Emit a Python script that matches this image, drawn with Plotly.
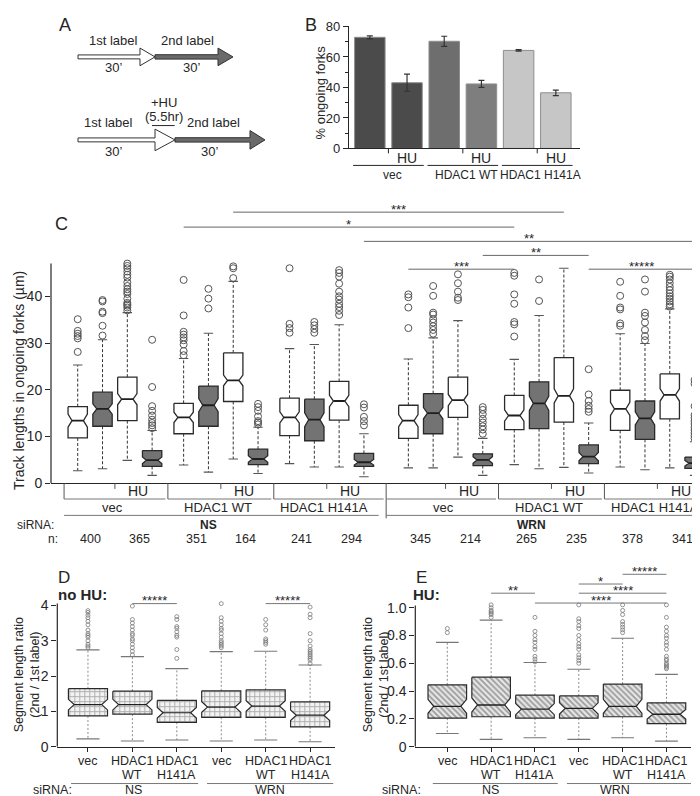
import plotly.graph_objects as go

W, H = 700, 796
FONT = "Liberation Sans, Arial, Helvetica, sans-serif"
INK = "#262626"


def fx(p):
    return p / W


def fy(p):
    return 1 - p / H


# ======================= DATA =======================
# ---- Panel B: % ongoing forks ----
b_conditions = ["vec", "vec HU", "HDAC1 WT", "HDAC1 WT HU", "HDAC1 H141A", "HDAC1 H141A HU"]
b_percent = [72.9, 43.1, 70.3, 42.3, 64.3, 36.5]
b_error = [1.0, 5.6, 3.3, 2.3, 0.5, 1.8]
b_groups = ["vec", "HDAC1 WT", "HDAC1 H141A"]
b_yticks = [0, 20, 40, 60, 80]

# ---- Panel C: track lengths (um); 4 boxes per construct:
#      1st label, 2nd label, 1st label +HU, 2nd label +HU
c_constructs = ["vec", "HDAC1 WT", "HDAC1 H141A", "vec", "HDAC1 WT", "HDAC1 H141A"]
c_sirna = ["NS", "WRN"]
c_n = [400, 365, 351, 164, 241, 294, 345, 214, 265, 235, 378, 341]
c_q1 = [9.7, 12.2, 13.4, 3.6, 10.6, 12.2, 17.5, 4.0, 10.2, 9.1, 13.5, 3.6,
        9.6, 10.6, 14.1, 3.8, 11.5, 11.7, 13.1, 4.2, 11.3, 9.4, 13.8, 3.2]
c_median = [13.4, 15.9, 18.0, 4.95, 14.1, 16.7, 22.0, 5.2, 14.1, 13.6, 17.6, 4.5,
            13.4, 15.0, 17.8, 5.0, 14.5, 17.1, 18.7, 5.7, 15.9, 13.9, 18.9, 4.3]
c_q3 = [16.4, 19.5, 22.7, 7.0, 17.1, 20.8, 27.9, 7.3, 18.2, 18.0, 21.8, 6.4,
        16.7, 19.2, 22.7, 6.3, 18.8, 21.7, 26.9, 8.2, 19.9, 17.6, 23.4, 5.6]
c_low = [2.7, 3.1, 4.9, 1.7, 3.9, 2.4, 5.2, 2.1, 4.2, 3.5, 3.5, 1.4,
         3.3, 3.3, 5.6, 1.7, 4.0, 3.1, 3.4, 2.2, 3.5, 2.9, 3.3, 1.7]
c_high = [25.3, 30.7, 36.5, 11.3, 26.7, 32.1, 43.2, 12.0, 28.8, 29.7, 33.9, 10.6,
          26.6, 31.1, 34.8, 9.6, 26.5, 35.9, 46.0, 12.9, 32.0, 29.9, 37.3, 8.9]
c_notch = [1.4, 1.1, 1.2, 0.7, 1.1, 1.4, 1.15, 0.7, 1.2, 1.5, 1.2, 0.6,
           1.3, 1.2, 1.2, 0.7, 1.2, 1.5, 1.5, 0.9, 1.4, 1.4, 1.3, 0.6]
c_outliers = [
    [28.1, 31.0, 31.5, 32.0, 32.6, 35.1],
    [31.6, 33.7, 36.4, 36.7, 38.9, 39.2],
    [37.0, 37.6, 38.0, 38.3, 38.6, 39.5, 40.5, 41.0, 41.5, 42.2, 43.0, 44.0, 44.6, 45.3, 46.0, 46.5, 47.0],
    [11.8, 12.4, 12.9, 13.6, 14.5, 15.5, 16.5, 20.6, 30.7],
    [27.4, 28.3, 29.7, 30.6, 31.2, 31.8, 32.4, 35.9, 43.5],
    [37.4, 39.5, 41.6],
    [43.9, 46.0, 46.4],
    [12.6, 13.0, 13.3, 14.3, 15.5, 16.3, 17.0],
    [32.2, 33.2, 34.1, 46.0],
    [32.2, 33.0, 33.8, 34.5],
    [36.0, 36.9, 37.7, 38.4, 39.3, 40.0, 41.0, 42.7, 44.2, 45.0, 45.6],
    [12.4, 13.3, 14.2, 16.2, 16.9],
    [33.2, 37.6, 39.8, 40.4],
    [32.0, 32.8, 33.6, 34.4, 35.1, 36.1, 36.5, 40.1, 42.2],
    [39.2, 39.7, 41.0, 42.8, 44.7],
    [10.6, 11.5, 12.2, 13.0, 13.8, 14.8, 15.7, 16.3],
    [31.4, 34.0, 34.5, 38.4, 40.4, 44.4, 45.0],
    [39.0, 43.6],
    [],
    [15.3, 15.9, 16.6, 17.6, 19.0, 24.4],
    [33.7, 34.2, 37.2, 37.6, 40.1, 43.1],
    [30.6, 31.5, 32.8, 34.4, 35.8, 36.5, 41.0, 43.6],
    [37.8, 38.3, 38.9, 39.5, 40.0, 40.6, 41.3, 42.0, 42.8, 43.6, 44.2, 44.6],
    [9.6, 10.2, 10.8, 11.4, 12.0, 12.7, 13.3, 14.0, 14.6, 16.5, 21.3, 22.1],
]
# significance: (box i, box j, bracket height, label)
c_sig = [(6, 18, 58.0, "***"), (4, 16, 54.8, "*"), (11, 23, 51.75, "**"),
         (15, 19, 48.75, "**"), (12, 16, 45.8, "***"), (19, 23, 45.8, "*****")]
c_yticks = [0, 10, 20, 30, 40]

# ---- Panel D: segment length ratio, no HU ----
de_labels = ["vec", "HDAC1<br>WT", "HDAC1<br>H141A", "vec", "HDAC1<br>WT", "HDAC1<br>H141A"]
de_sirna = ["NS", "WRN"]
d_q1 = [0.87, 0.92, 0.69, 0.83, 0.83, 0.56]
d_median = [1.19, 1.19, 0.96, 1.12, 1.15, 0.89]
d_q3 = [1.64, 1.57, 1.31, 1.58, 1.61, 1.27]
d_low = [0.22, 0.16, 0.19, 0.16, 0.19, 0.14]
d_high = [2.74, 2.55, 2.21, 2.69, 2.70, 2.31]
d_notch = [0.15, 0.15, 0.15, 0.15, 0.15, 0.15]
d_outliers = [
    [2.8, 2.85, 2.9, 3.0, 3.1, 3.15, 3.2, 3.3, 3.45, 3.55, 3.65, 3.72, 3.8, 3.85],
    [2.6, 2.7, 2.8, 2.9, 3.0, 3.05, 3.15, 3.2, 3.3, 3.4, 3.5, 3.6, 3.98],
    [2.5, 2.75, 3.1, 3.15, 3.25, 3.35, 3.4, 3.6, 3.68],
    [2.8, 2.85, 2.9, 2.95, 3.0, 3.1, 3.2, 3.3, 3.35, 3.45, 3.55, 3.65, 4.05],
    [2.9, 2.95, 3.0, 3.05, 3.3, 3.45, 3.6],
    [2.35, 2.45, 2.5, 2.55, 2.6, 2.65, 2.7, 2.75, 2.85, 3.0, 3.2, 3.65, 3.75, 3.95],
]
d_sig = [(1, 2, 4.05, "*****"), (4, 5, 4.05, "*****")]
d_yticks = [0, 1, 2, 3, 4]

# ---- Panel E: segment length ratio, HU ----
e_q1 = [0.205, 0.215, 0.205, 0.205, 0.215, 0.165]
e_median = [0.29, 0.30, 0.27, 0.275, 0.29, 0.233]
e_q3 = [0.445, 0.50, 0.37, 0.365, 0.45, 0.315]
e_low = [0.095, 0.052, 0.064, 0.052, 0.064, 0.04]
e_high = [0.75, 0.91, 0.605, 0.557, 0.78, 0.52]
e_notch = [0.05, 0.05, 0.04, 0.04, 0.05, 0.035]
e_outliers = [
    [0.82, 0.85],
    [0.93, 0.95, 0.96, 0.97, 0.98, 1.0, 1.02],
    [0.61, 0.63, 0.65, 0.70, 0.72, 0.75, 0.77, 0.80, 0.83, 0.93],
    [0.60, 0.62, 0.64, 0.66, 0.70, 0.72, 0.74, 0.77, 0.80, 0.85, 0.87, 0.90, 0.92, 1.02],
    [0.82, 0.84, 0.86, 0.88, 0.90, 0.95, 0.98, 1.02],
    [0.56, 0.57, 0.58, 0.59, 0.60, 0.62, 0.63, 0.65, 0.70, 0.73, 0.75, 0.78, 0.80, 0.83, 0.86, 0.93, 1.02],
]
e_sig = [(1, 2, 1.104, "**"), (2, 5, 1.033, "****"), (3, 5, 1.104, "****"),
         (3, 4, 1.17, "*"), (4, 5, 1.24, "*****")]
e_yticks = [0, 0.2, 0.4, 0.6, 0.8, 1.0]
e_yticktext = ["0", "0.2", "0.4", "0.6", "0.8", "1.0"]

# ======================= STYLE =======================
B_FILL = ["#4b4b4b", "#4b4b4b", "#6e6e6e", "#7e7e7e", "#c6c6c6", "#c6c6c6"]
B_EDGE = "#8e8e8e"
C_FILL = ["#ffffff", "#737373"]

fig = go.Figure()
ann = []
shapes = []


def text(x, y, s, size=13, xref="paper", yref="paper", xanchor="center",
         yanchor="middle", angle=0, yshift=0, color=INK):
    ann.append(dict(x=x, y=y, xref=xref, yref=yref, text=s, showarrow=False,
                    font=dict(size=size, family=FONT, color=color),
                    xanchor=xanchor, yanchor=yanchor, textangle=angle, yshift=yshift,
                    borderpad=0))


def ptext(xp, yp, s, **kw):
    text(fx(xp), fy(yp), s, **kw)


def line(x0, y0, x1, y1, xref="paper", yref="paper", color=INK, width=1.0):
    shapes.append(dict(type="line", x0=x0, y0=y0, x1=x1, y1=y1, xref=xref, yref=yref,
                       line=dict(color=color, width=width), layer="above"))


# ======================= PANEL A =======================
def arrow_path(x0, x1, xh, yc, bh, hh):
    pts = [(x0, yc - bh / 2), (x1, yc - bh / 2), (x1, yc - hh / 2), (xh, yc),
           (x1, yc + hh / 2), (x1, yc + bh / 2), (x0, yc + bh / 2)]
    return "M " + " L ".join(f"{fx(a):.5f},{fy(b):.5f}" for a, b in pts) + " Z"


for (x0, x1, xh, yc, bh, hh, fc) in [
    (70, 132, 147, 42.7, 4, 18, "#ffffff"), (147, 210, 225, 42.7, 4.5, 18, "#6a6a6a"),
    (70, 147, 167, 127.3, 4, 22, "#ffffff"), (167, 242, 257, 127.3, 4.5, 19, "#6a6a6a")]:
    shapes.append(dict(type="path", path=arrow_path(x0, x1, xh, yc, bh, hh), xref="paper",
                       yref="paper", fillcolor=fc, line=dict(color="#333333", width=1)))
line(fx(144), fy(112.7), fx(166.7), fy(112.7), width=1)
ptext(57, 10, "A", size=18)
ptext(105, 26, "1st label", size=13)
ptext(179, 26, "2nd label", size=13)
ptext(105, 54, "30’", size=13)
ptext(183, 54, "30’", size=13)
ptext(156, 89, "+HU", size=13)
ptext(156, 103, "(5.5hr)", size=13)
ptext(100, 110, "1st label", size=13)
ptext(206, 110, "2nd label", size=13)
ptext(105, 139, "30’", size=13)
ptext(201, 139, "30’", size=13)

# ======================= PANEL B =======================
b_x = list(range(len(b_percent)))
fig.add_trace(go.Bar(
    x=b_x, y=b_percent, width=0.82, name="% ongoing forks",
    marker=dict(color=B_FILL, line=dict(color=B_EDGE, width=1)),
    error_y=dict(type="data", array=b_error, color="#333333", thickness=1.2, width=3),
    xaxis="x", yaxis="y", hoverinfo="skip", text=b_conditions, textposition="none"))
ptext(303, 10, "B", size=18)
ptext(313, 79, "% ongoing forks", size=13, angle=-90)
for g, name in enumerate(b_groups):
    line(2 * g + 0.5, fy(136), 2 * g + 0.5, fy(141), xref="x")
    line(2 * g - 0.45, fy(153.3), 2 * g + 1.45, fy(153.3), xref="x")
    text(2 * g + 1, fy(145.5), "HU", size=14, xref="x")
    text(2 * g + 0.6, fy(163.3), name, size=12, xref="x")

# ======================= BOX HELPERS =======================
def notch_polys(xs, q1, med, q3, notch, hw, nw, idx):
    X, Y = [], []
    for i in idx:
        x, a, m, b, n = xs[i], q1[i], med[i], q3[i], notch[i]
        X += [x - hw, x + hw, x + hw, x + hw - nw, x + hw, x + hw, x - hw, x - hw,
              x - hw + nw, x - hw, x - hw, None]
        Y += [b, b, m + n, m, m - n, a, a, m - n, m, m + n, b, None]
    return X, Y


def median_lines(xs, med, hw, nw):
    X, Y = [], []
    for x, m in zip(xs, med):
        X += [x - hw + nw, x + hw - nw, None]
        Y += [m, m, None]
    return X, Y


def whiskers(xs, q1, q3, lo, hi):
    X, Y = [], []
    for x, a, b, l, h in zip(xs, q1, q3, lo, hi):
        X += [x, x, None, x, x, None]
        Y += [b, h, None, a, l, None]
    return X, Y


def caps(xs, lo, hi, cw):
    X, Y = [], []
    for x, l, h in zip(xs, lo, hi):
        X += [x - cw, x + cw, None, x - cw, x + cw, None]
        Y += [h, h, None, l, l, None]
    return X, Y


def outlier_pts(xs, outs):
    X, Y = [], []
    for x, o in zip(xs, outs):
        X += [x] * len(o)
        Y += list(o)
    return X, Y


def draw_boxes(xs, q1, med, q3, lo, hi, notch, outs, xa, ya, hw, nw, cw,
               fills, wcol, wdash, ccol, ocol, osize, owidth, lwidth, mwidth):
    wx, wy = whiskers(xs, q1, q3, lo, hi)
    fig.add_trace(go.Scatter(x=wx, y=wy, mode="lines", xaxis=xa, yaxis=ya, hoverinfo="skip",
                             line=dict(color=wcol, width=1, dash=wdash)))
    cx, cy = caps(xs, lo, hi, cw)
    fig.add_trace(go.Scatter(x=cx, y=cy, mode="lines", xaxis=xa, yaxis=ya, hoverinfo="skip",
                             line=dict(color=ccol, width=1.1)))
    for idx, fill in fills:
        bx, by = notch_polys(xs, q1, med, q3, notch, hw, nw, idx)
        kw = dict(fillcolor=fill) if isinstance(fill, str) else dict(fillpattern=fill, fillcolor=fill["bgcolor"])
        fig.add_trace(go.Scatter(x=bx, y=by, mode="lines", fill="toself", xaxis=xa, yaxis=ya,
                                 hoverinfo="skip", line=dict(color="#2a2a2a", width=lwidth), **kw))
    mx, my = median_lines(xs, med, hw, nw)
    fig.add_trace(go.Scatter(x=mx, y=my, mode="lines", xaxis=xa, yaxis=ya, hoverinfo="skip",
                             line=dict(color="#1e1e1e", width=mwidth)))
    ox, oy = outlier_pts(xs, outs)
    fig.add_trace(go.Scatter(x=ox, y=oy, mode="markers", xaxis=xa, yaxis=ya, hoverinfo="skip",
                             marker=dict(symbol="circle-open", size=osize, color=ocol,
                                         line=dict(width=owidth, color=ocol))))


def draw_sig(xs, sig, xa, ya, size, col, yshift):
    for i, j, h, lab in sig:
        fig.add_trace(go.Scatter(x=[xs[i], xs[j]], y=[h, h], mode="lines", xaxis=xa, yaxis=ya,
                                 hoverinfo="skip", line=dict(color=col, width=1)))
        text((xs[i] + xs[j]) / 2, h, lab, size=size, xref=xa, yref=ya, yshift=yshift)


# ======================= PANEL C =======================
GSTEP, SGAP = 4.27, 0.52


def c_pos(i):
    g, b = divmod(i, 4)
    return g * GSTEP + b + (SGAP if g >= 3 else 0)


c_x = [c_pos(i) for i in range(len(c_q1))]
nbox = len(c_x)
draw_boxes(c_x, c_q1, c_median, c_q3, c_low, c_high, c_notch, c_outliers, "x2", "y2",
           hw=0.39, nw=0.16, cw=0.19,
           fills=[([i for i in range(nbox) if i % 2 == 0], C_FILL[0]),
                  ([i for i in range(nbox) if i % 2 == 1], C_FILL[1])],
           wcol="#333333", wdash="3px,2px", ccol="#555555", ocol="#555555",
           osize=7, owidth=1, lwidth=1.3, mwidth=1.8)
draw_sig(c_x, c_sig, "x2", "y2", 13, "#666666", 3)

# y axis line for C (only up to the data range)
line(fx(43), 0, fx(43), 47, yref="y2", color=INK, width=1.2)
ptext(53, 213, "C", size=18)
ptext(11, 373, "Track lengths in ongoing forks (µm)", size=14, angle=-90)

# table under C
ngrp = len(c_constructs)
first = [c_x[4 * g] for g in range(ngrp)]
last = [c_x[4 * g + 3] for g in range(ngrp)]
bounds = [first[0] - 0.55] + [(last[g] + first[g + 1]) / 2 for g in range(ngrp - 1)] + [last[-1] + 0.5]
for g, name in enumerate(c_constructs):
    y_bot = 513 if g == 3 else 493.3
    line(bounds[g], fy(477.3), bounds[g], fy(y_bot), xref="x2", color="#555555")
    line(bounds[g], fy(493.3), bounds[g + 1] - 0.1, fy(493.3), xref="x2", color="#777777")
    mid = first[g] + 1.5
    line(mid, fy(477.3), mid, fy(483), xref="x2", color="#555555")
    text(first[g] + 2.45, fy(485.5), "HU", size=14, xref="x2")
    text(mid - 0.1, fy(502), name, size=13, xref="x2")
line(bounds[0], fy(510), bounds[3] - 0.3, fy(510), xref="x2", color="#777777")
line(bounds[3], fy(510), bounds[-1], fy(510), xref="x2", color="#777777")
ptext(47, 520, "siRNA:", size=12, xanchor="right")
ptext(200, 520, "<b>" + c_sirna[0] + "</b>", size=12)
ptext(523, 520, "<b>" + c_sirna[1] + "</b>", size=12)
ptext(51, 534.5, "n:", size=12, xanchor="right")
for k, nval in enumerate(c_n):
    xc = (c_x[2 * k] + c_x[2 * k + 1]) / 2
    text(xc, fy(534.5), str(nval), size=12.5, xref="x2")

# ======================= PANELS D & E =======================
de_x = list(range(len(de_labels)))
D_PAT = dict(shape="+", bgcolor="#f2f2f2", fgcolor="#6a6a6a", size=5, solidity=0.35)
E_PAT = dict(shape="\\", bgcolor="#e6e6e6", fgcolor="#505050", size=4, solidity=0.45)

draw_boxes(de_x, d_q1, d_median, d_q3, d_low, d_high, d_notch, d_outliers, "x3", "y3",
           hw=0.44, nw=0.13, cw=0.26, fills=[(list(range(6)), D_PAT)],
           wcol="#8a8a8a", wdash="2px,2px", ccol="#777777", ocol="#7a7a7a",
           osize=4, owidth=0.8, lwidth=1.2, mwidth=1.2)
draw_sig(de_x, d_sig, "x3", "y3", 13, "#777777", 3)
draw_boxes(de_x, e_q1, e_median, e_q3, e_low, e_high, e_notch, e_outliers, "x4", "y4",
           hw=0.44, nw=0.13, cw=0.26, fills=[(list(range(6)), E_PAT)],
           wcol="#8a8a8a", wdash="2px,2px", ccol="#777777", ocol="#7a7a7a",
           osize=4, owidth=0.8, lwidth=1.2, mwidth=1.4)
draw_sig(de_x, e_sig, "x4", "y4", 13, "#777777", 3)

line(fx(49.3), 0, fx(49.3), 4.05, yref="y3", color=INK, width=1.2)
line(fx(407.3), 0, fx(407.3), 1.016, yref="y4", color=INK, width=1.2)

ptext(56, 573, "D", size=17)
ptext(49, 591, "<b>no HU:</b>", size=15, xanchor="left")
ptext(413, 573, "E", size=17)
ptext(404, 591, "<b>HU:</b>", size=15, xanchor="left")
ptext(19, 673, "Segment length ratio<br>(2nd / 1st label)", size=12.5, angle=-90)
ptext(368, 673, "Segment length ratio<br>(2nd / 1st label)", size=12.5, angle=-90)

for xa, off_l, off_r, xsir, xns, xwrn in [("x3", -0.38, 0.52, 45, 125, 262),
                                          ("x4", -0.33, 0.56, 393, 482, 607)]:
    # category labels (two text rows, placed under each tick)
    for k, lab in enumerate(de_labels):
        parts = lab.split("<br>")
        for r, part in enumerate(parts):
            text(de_x[k], fy(760.5 + 14.5 * r), part, size=12.5, xref=xa)
    for s in range(2):
        line(3 * s + off_l + (0.06 if s else 0), fy(783.3), 3 * s + 2 + off_r - (0.04 if not s else 0),
             fy(783.3), xref=xa, color="#777777")
    ptext(xsir, 790, "siRNA:", size=12.5)
    ptext(xns, 790, de_sirna[0], size=12.5)
    ptext(xwrn, 790, de_sirna[1], size=12.5)

# ======================= LAYOUT =======================
tickfont = dict(family=FONT, size=14, color=INK)
common_y = dict(showgrid=False, zeroline=False, ticks="outside", ticklen=5, tickcolor=INK,
                tickwidth=1.1, tickfont=tickfont)
de_xaxis = dict(showline=True, linecolor=INK, linewidth=1.2, tickvals=de_x, showticklabels=False,
                ticks="outside", ticklen=4, tickcolor=INK, showgrid=False, zeroline=False)
fig.update_layout(
    width=W, height=H, margin=dict(l=0, r=0, t=0, b=0),
    paper_bgcolor="white", plot_bgcolor="rgba(0,0,0,0)", showlegend=False,
    font=dict(family=FONT, size=13, color=INK),
    xaxis=dict(domain=[fx(341), fx(572)], range=[-0.56, 5.65], anchor="y", showline=True,
               linecolor=INK, linewidth=1.2, showticklabels=False, ticks="", showgrid=False,
               zeroline=False),
    yaxis=dict(domain=[fy(136), fy(11.7)], range=[0, 80], anchor="x", showline=True,
               linecolor=INK, linewidth=1.2, tickvals=b_yticks,
               minor=dict(tickvals=[10, 30, 50, 70], ticks="outside", ticklen=3, tickcolor=INK),
               **{**common_y, "tickfont": dict(family=FONT, size=13, color=INK)}),
    xaxis2=dict(domain=[fx(43), fx(697)], range=[-1.077, 25.29], anchor="y2", showline=True,
                linecolor=INK, linewidth=1.2, showticklabels=False, ticks="", showgrid=False,
                zeroline=False),
    yaxis2=dict(domain=[fy(477.3), fy(191.4)], range=[0, 60], anchor="x2", showline=False,
                tickvals=c_yticks, **common_y),
    xaxis3=dict(domain=[fx(49.3), fx(327)], range=[-0.69, 5.56], anchor="y3", **de_xaxis),
    yaxis3=dict(domain=[fy(745.7), fy(580.1)], range=[0, 4.6], anchor="x3", showline=False,
                tickvals=d_yticks, **common_y),
    xaxis4=dict(domain=[fx(407.3), fx(683)], range=[-0.73, 5.56], anchor="y4", **de_xaxis),
    yaxis4=dict(domain=[fy(745.7), fy(558.7)], range=[0, 1.32], anchor="x4", showline=False,
                tickvals=e_yticks, ticktext=e_yticktext, **common_y),
    annotations=ann, shapes=shapes,
)

fig.write_html("out.html")
